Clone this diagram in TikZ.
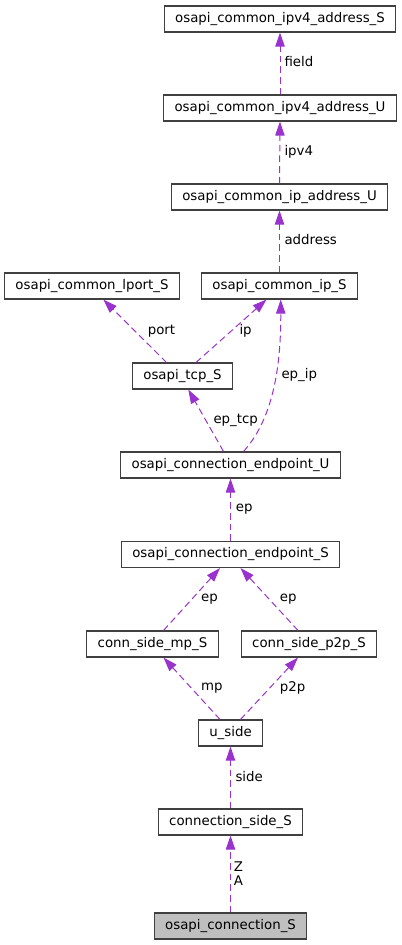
\documentclass[tikz,border=0pt]{standalone}
\usepackage{fontspec}
\setmainfont{DejaVu Sans}
\usetikzlibrary{arrows.meta,calc,positioning}
\definecolor{edgepurple}{HTML}{9A32CD}
\definecolor{boxgray}{HTML}{404040}
\definecolor{rootfill}{HTML}{BFBFBF}

\begin{document}
\begin{tikzpicture}[x=0.75pt,y=-0.75pt,
  cls/.style={draw=boxgray,line width=0.8pt,fill=white,inner xsep=8.2pt,inner ysep=0pt,minimum height=19.5pt,font=\fontsize{10}{12}\selectfont},
  root/.style={cls,fill=rootfill},
  member/.style={draw=edgepurple,line width=0.75pt,dash pattern=on 5pt off 3pt,-{Triangle[length=10.5pt,width=7pt]}},
  lbl/.style={anchor=west,inner sep=0pt,font=\fontsize{10}{10.5}\selectfont,align=center}]
  \useasboundingbox (0,0) rectangle (401,945);
  % classes
  \node[cls] (ipvfourS) at (280,19) {osapi\_common\_ipv4\_address\_S};
  \node[cls] (ipvfourU) at (280,108) {osapi\_common\_ipv4\_address\_U};
  \node[cls] (ipaddrU) at (279.5,197) {osapi\_common\_ip\_address\_U};
  \node[cls] (lport) at (92,286) {osapi\_common\_lport\_S};
  \node[cls] (ipS) at (279.5,286) {osapi\_common\_ip\_S};
  \node[cls] (tcp) at (182.5,376) {osapi\_tcp\_S};
  \node[cls] (epU) at (230.5,465) {osapi\_connection\_endpoint\_U};
  \node[cls] (epS) at (230.5,554.5) {osapi\_connection\_endpoint\_S};
  \node[cls] (mp) at (152.5,644) {conn\_side\_mp\_S};
  \node[cls] (ptp) at (309,644) {conn\_side\_p2p\_S};
  \node[cls] (uside) at (230.5,733) {u\_side};
  \node[cls] (cside) at (230.5,822) {connection\_side\_S};
  \node[root] (conn) at (230.5,926) {osapi\_connection\_S};
  % members
  \draw[member] (ipvfourU.north) -- (ipvfourS.south) node[lbl] at (284,62) {field};
  \draw[member] (ipaddrU.north) -- (ipvfourU.south) node[lbl] at (284,152) {ipv4};
  \draw[member] (ipS.north) -- (ipaddrU.south) node[lbl] at (284,240) {address};
  \draw[member] ($(tcp.north)+(-16,0)$) -- ($(lport.south)+(11.3,0)$) node[lbl] at (147.3,331) {port};
  \draw[member] ($(tcp.north)+(13.5,0)$) -- ($(ipS.south)+(-13,0)$) node[lbl] at (239,331) {ip};
  \draw[member] ($(epU.north)+(13,0)$) .. controls (272,420) and (281,370) .. ($(ipS.south)+(1.2,0)$) node[lbl] at (281,375) {ep\_ip};
  \draw[member] ($(epU.north)+(-7,0)$) -- ($(tcp.south)+(5.8,0)$) node[lbl] at (213,420) {ep\_tcp};
  \draw[member] (epS.north) -- (epU.south) node[lbl] at (235.3,509) {ep};
  \draw[member] ($(mp.north)+(11,0)$) -- ($(epS.south)+(-10.5,0)$) node[lbl] at (200.7,599) {ep};
  \draw[member] ($(ptp.north)+(-11,0)$) -- ($(epS.south)+(10,0)$) node[lbl] at (279.3,599) {ep};
  \draw[member] ($(uside.north)+(-10.5,0)$) -- ($(mp.south)+(11,0)$) node[lbl] at (200.7,688) {mp};
  \draw[member] ($(uside.north)+(10,0)$) -- ($(ptp.south)+(-11,0)$) node[lbl] at (279.3,688) {p2p};
  \draw[member] (cside.north) -- (uside.south) node[lbl] at (235,777) {side};
  \draw[member] (conn.north) -- (cside.south) node[lbl,anchor=center] at (238.5,874) {Z\\A};
\end{tikzpicture}
\end{document}
